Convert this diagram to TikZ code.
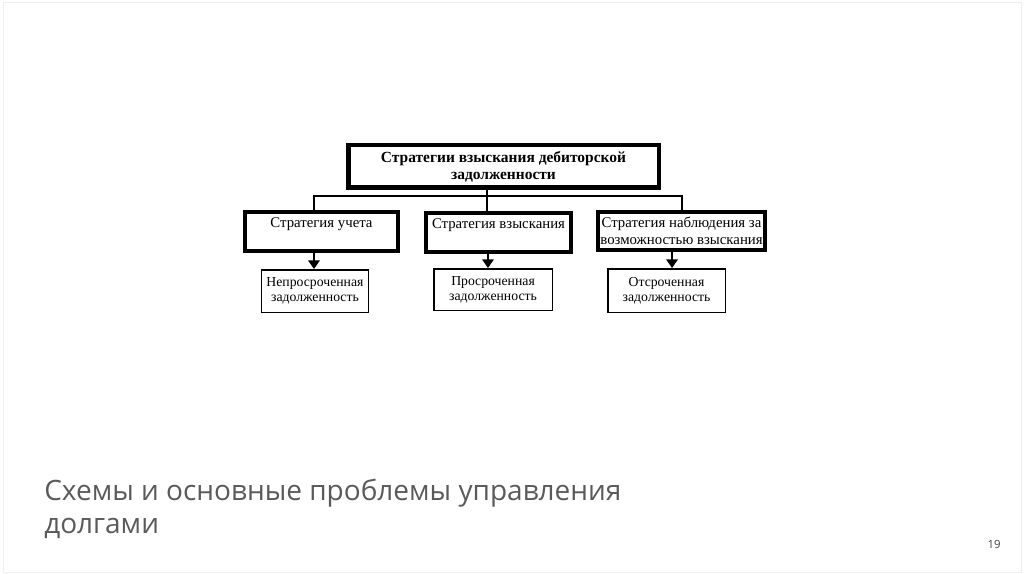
\documentclass[tikz,border=0pt]{standalone}
\usepackage{fontspec}
\setmainfont{Liberation Serif}
\newfontfamily\slidefont{Open Sans}
\usetikzlibrary{arrows.meta,positioning,calc}
\definecolor{cTitle}{HTML}{5A5A5A}
\definecolor{cNum}{HTML}{444444}
\definecolor{cFrame}{HTML}{EFEFEF}

\begin{document}
\begin{tikzpicture}[
  x=0.75pt,y=-0.75pt,
  box/.style={draw,align=center,inner sep=0pt},
  head/.style={box,line width=3.4pt,minimum width=232.9pt,minimum height=31.9pt,
               font=\fontsize{11.6}{12.75}\selectfont\bfseries},
  % single-line strategies sit at the top of their box
  strat/.style={box,line width=3pt,minimum height=29.25pt,
                font=\fontsize{11.1}{12.75}\selectfont},
  topline/.style={text height=11.25pt,text depth=18pt},
  debt/.style={box,line width=1.1pt,font=\fontsize{10.3}{11.5}\selectfont},
  link/.style={line width=1.1pt},
  arr/.style={line width=1.9pt,-{Triangle[length=6.5pt,width=8.5pt]}},
  ]
  \useasboundingbox (0,0) rectangle (1024,574);
  \draw[cFrame] (3,2) rectangle (1021,572);

  \node[head] (top) at (503.5,166.5)
    {Стратегии взыскания дебиторской\\задолженности};

  \node[strat,topline,minimum width=114.75pt,below=15pt of top,xshift=-136.5pt] (lstrat)
    {Стратегия учета};
  \node[strat,topline,minimum width=108.75pt,below=15.75pt of top,xshift=-3.75pt] (mstrat)
    {Стратегия взыскания};
  \node[strat,minimum width=125.25pt,minimum height=28.5pt,below=15pt of top,xshift=133.5pt] (rstrat)
    {Стратегия наблюдения за\\возможностью взыскания};

  \node[debt,minimum width=79.9pt,minimum height=31.9pt,below=12pt of lstrat,xshift=-4.9pt] (ldebt)
    {Непросроченная\\задолженность};
  \node[debt,minimum width=88.9pt,minimum height=31.1pt,below=10.5pt of mstrat,xshift=-4.1pt] (mdebt)
    {Просроченная\\задолженность};
  \node[debt,minimum width=88.1pt,minimum height=32.6pt,below=12pt of rstrat,xshift=-11.25pt] (rdebt)
    {Отсроченная\\задолженность};

  \coordinate (busl) at (314,196);
  \coordinate (busr) at (682,196);
  \draw[link] ($(top.south)+(-16.5,0)$) -- ($(mstrat.north)+(-11.5,0)$);
  \draw[link] (busl |- lstrat.north) -- (busl) -- (busr) -- (busr |- rstrat.north);

  \draw[arr] (lstrat.south -| busl) -- (ldebt.north -| busl);
  \draw[arr] ([xshift=-7.9pt]mstrat.south) -- ([xshift=-7.9pt]mstrat.south |- mdebt.north);
  \draw[arr] ([xshift=-7.1pt]rstrat.south) -- ([xshift=-7.1pt]rstrat.south |- rdebt.north);

  % base of a two-line node is the baseline of its last line
  \node[anchor=base west,align=left,inner sep=0pt,text=cTitle,
        font=\slidefont\fontsize{21}{24.75}\selectfont] (title) at (44,533)
    {Схемы и основные проблемы управления\\долгами};
  \node[anchor=base,inner sep=0pt,text=cNum,
        font=\slidefont\fontsize{8.5}{10}\selectfont] (pnum) at (994,548) {19};
\end{tikzpicture}
\end{document}
